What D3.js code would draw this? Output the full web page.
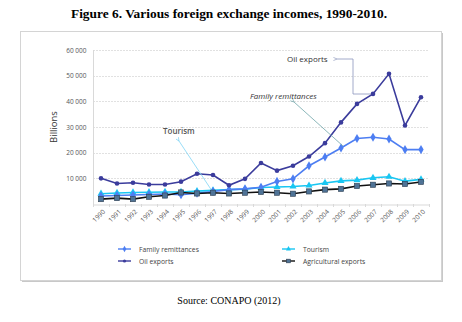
<!DOCTYPE html>
<html>
<head>
<meta charset="utf-8">
<script src="https://cdn.jsdelivr.net/npm/d3@7"></script>
<style>
  html, body { margin: 0; padding: 0; background: #fff; }
  svg { display: block; }
</style>
</head>
<body>
<svg id="chart" width="462" height="322"></svg>
<script>
// Years on the category axis
const years = d3.range(1990, 2011).map(String);

// Series values, in billions
const familyRemittances = [3100, 3300, 3500, 3700, 3900, 3600, 4200, 4900, 5600, 5900, 6500, 8800, 9800, 14900, 18300, 21800, 25500, 26000, 25300, 21200, 21200];
const tourism = [4000, 4300, 4500, 4600, 4700, 4700, 5000, 5300, 5600, 5800, 6400, 6600, 6800, 7200, 8200, 9000, 9300, 10200, 10600, 8900, 9600];
const oilExports = [10000, 8000, 8300, 7600, 7600, 8700, 11800, 11300, 7300, 9800, 16000, 13000, 14900, 18500, 23700, 31800, 39000, 42900, 50700, 30600, 41600];
const agriculturalExports = [1900, 2300, 1900, 2800, 3300, 4500, 4100, 4400, 4100, 4400, 4700, 4400, 4000, 4900, 5600, 5900, 7000, 7500, 8000, 7800, 8600];

const yTicks = [0, 10000, 20000, 30000, 40000, 50000, 60000];

const series = [
  { name: "Family remittances", values: familyRemittances, color: "#4d7ef2", marker: "diamond" },
  { name: "Tourism", values: tourism, color: "#19c6f2", marker: "triangle" },
  { name: "Oil exports", values: oilExports, color: "#3b3c9c", marker: "circle" },
  { name: "Agricultural exports", values: agriculturalExports, color: "#111111", marker: "square" }
];

const svg = d3.select("#chart");
const uiFont = "'Open Sans', 'Noto Sans', sans-serif";

// Page title and source line
svg.append("text").attr("x", 229).attr("y", 18).attr("text-anchor", "middle")
  .attr("font-family", "'Liberation Serif', serif").attr("font-weight", "bold")
  .attr("font-size", 13.4).attr("fill", "#000")
  .text("Figure 6. Various foreign exchange incomes, 1990-2010.");
svg.append("text").attr("x", 229).attr("y", 304).attr("text-anchor", "middle")
  .attr("font-family", "'Liberation Serif', serif").attr("font-size", 10).attr("fill", "#000")
  .text("Source: CONAPO (2012)");

// Chart frame with a soft shadow
svg.append("rect").attr("x", 22).attr("y", 33).attr("width", 421).attr("height", 249)
  .attr("fill", "#c8c8c8");
svg.append("rect").attr("x", 20.5).attr("y", 31.5).attr("width", 421).attr("height", 249)
  .attr("fill", "#fff").attr("stroke", "#d4d4d4").attr("stroke-width", 1);

const plot = { left: 93, right: 429, top: 50, bottom: 204 };

const x = d3.scaleBand().domain(years).range([plot.left, plot.right]);
const y = d3.scaleLinear().domain([0, 60000]).range([plot.bottom, plot.top]);
const cx = d => x(d) + x.bandwidth() / 2;

// Horizontal gridlines
svg.append("g").selectAll("line").data(yTicks.filter(t => t > 0)).join("line")
  .attr("x1", plot.left).attr("x2", plot.right)
  .attr("y1", d => Math.round(y(d)) + 0.5).attr("y2", d => Math.round(y(d)) + 0.5)
  .attr("stroke", "#d9d9d9").attr("stroke-width", 0.8).attr("stroke-dasharray", "2,1");

// Y axis
const fmt = v => d3.format(",")(v).replace(/,/g, " ");
const yAxis = svg.append("g").attr("transform", `translate(${plot.left + 0.5},0)`)
  .call(d3.axisLeft(y).tickValues(yTicks.filter(t => t > 0)).tickFormat(fmt).tickSize(0).tickPadding(7));
yAxis.select(".domain").attr("stroke", "#d9d9d9").attr("d", `M0,${plot.top}V${plot.bottom}`);
yAxis.selectAll("text").attr("font-family", uiFont).attr("font-size", 6.5).attr("fill", "#555");

// X axis
const xAxis = svg.append("g").attr("transform", `translate(0,${plot.bottom + 0.5})`)
  .call(d3.axisBottom(x).tickSize(0).tickFormat(d => d));
xAxis.select(".domain").attr("stroke", "#d9d9d9");
xAxis.selectAll(".tick text")
  .attr("font-family", uiFont).attr("font-size", 6.5).attr("fill", "#555")
  .attr("text-anchor", "end")
  .attr("transform", "translate(3,6) rotate(-45)").attr("dy", "0.35em").attr("y", 0);
// Tick marks at category boundaries
svg.append("g").selectAll("line").data(years.concat(["end"])).join("line")
  .attr("x1", (d, i) => Math.round(plot.left + i * x.bandwidth()) + 0.5)
  .attr("x2", (d, i) => Math.round(plot.left + i * x.bandwidth()) + 0.5)
  .attr("y1", plot.bottom).attr("y2", plot.bottom + 3)
  .attr("stroke", "#d9d9d9");

// Y axis title
svg.append("text").attr("transform", "translate(57,127) rotate(-90)")
  .attr("text-anchor", "middle").attr("font-family", uiFont).attr("font-size", 9.5)
  .attr("fill", "#333").text("Billions");

// Marker shapes
function drawMarker(g, s, px, py, k) {
  if (s.marker === "circle") {
    g.append("circle").attr("cx", px).attr("cy", py).attr("r", 2.3 * k).attr("fill", s.color);
  } else if (s.marker === "diamond") {
    g.append("path").attr("d", d3.symbol(d3.symbolDiamond, 24 * k * k)()).attr("transform", `translate(${px},${py})`)
      .attr("fill", s.color);
  } else if (s.marker === "triangle") {
    g.append("path").attr("d", d3.symbol(d3.symbolTriangle, 22 * k * k)()).attr("transform", `translate(${px},${py})`)
      .attr("fill", s.color);
  } else {
    g.append("rect").attr("x", px - 2.6 * k).attr("y", py - 2.6 * k).attr("width", 5.2 * k).attr("height", 5.2 * k)
      .attr("fill", "#4f7396").attr("stroke", "#2d3e50").attr("stroke-width", 0.6);
  }
}

// Series lines and markers (draw order keeps oil and agriculture readable)
const order = [series[1], series[0], series[3], series[2]];
const line = d3.line().x((d, i) => cx(years[i])).y(d => y(d));
order.forEach(s => {
  const g = svg.append("g");
  g.append("path").datum(s.values).attr("d", line)
    .attr("fill", "none").attr("stroke", s.color).attr("stroke-width", 1.6);
  s.values.forEach((v, i) => drawMarker(g, s, cx(years[i]), y(v), 1));
});

// Annotations with pointer arrows
const defs = svg.append("defs");
function arrowHead(id, color) {
  defs.append("marker").attr("id", id).attr("viewBox", "0 0 10 10").attr("refX", 1).attr("refY", 5)
    .attr("markerWidth", 5).attr("markerHeight", 5).attr("orient", "auto-start-reverse")
    .append("path").attr("d", "M10,1 L1,5 L10,9").attr("fill", "none").attr("stroke", color).attr("stroke-width", 1.4);
}
arrowHead("arrOil", "#7a86b0");
arrowHead("arrRem", "#5f9a9e");
arrowHead("arrTour", "#5fc8f0");

// Oil exports callout: elbow connector to the 2007 point
const oilIdx = years.indexOf("2007");
svg.append("path")
  .attr("d", `M337,59 H353 V94 H${cx(years[oilIdx]) - 2}`)
  .attr("fill", "none").attr("stroke", "#8c96bc").attr("stroke-width", 0.8)
  .attr("marker-start", "url(#arrOil)");
svg.append("text").attr("x", 287).attr("y", 62).attr("font-family", uiFont).attr("font-size", 8)
  .attr("fill", "#333").text("Oil exports");

// Family remittances callout toward the 2005 point
const remIdx = years.indexOf("2005");
svg.append("line").attr("x1", 294).attr("y1", 102)
  .attr("x2", cx(years[remIdx]) + 2).attr("y2", y(familyRemittances[remIdx]) - 2)
  .attr("stroke", "#6fa5a8").attr("stroke-width", 0.8).attr("marker-start", "url(#arrRem)");
svg.append("text").attr("x", 250).attr("y", 99).attr("font-family", uiFont).attr("font-size", 8)
  .attr("font-style", "italic").attr("fill", "#333").text("Family remittances");

// Tourism callout toward the 1997 point
const tourIdx = years.indexOf("1997");
svg.append("line").attr("x1", 179).attr("y1", 141)
  .attr("x2", cx(years[tourIdx]) - 2).attr("y2", y(tourism[tourIdx]) - 1)
  .attr("stroke", "#7fd4f5").attr("stroke-width", 0.8).attr("marker-start", "url(#arrTour)");
svg.append("text").attr("x", 163).attr("y", 134).attr("font-family", uiFont).attr("font-size", 8)
  .attr("font-weight", "600").attr("fill", "#555").text("Tourism");

// Legend
const legendItems = [
  { s: series[0], x: 118, y: 249 },
  { s: series[2], x: 118, y: 261 },
  { s: series[1], x: 282, y: 249 },
  { s: series[3], x: 282, y: 261 }
];
legendItems.forEach(it => {
  const g = svg.append("g");
  g.append("line").attr("x1", it.x).attr("x2", it.x + 13).attr("y1", it.y).attr("y2", it.y)
    .attr("stroke", it.s.color).attr("stroke-width", 1.4);
  drawMarker(g, it.s, it.x + 6.5, it.y, 0.7);
  g.append("text").attr("x", it.x + 21).attr("y", it.y + 2.5).attr("font-family", uiFont)
    .attr("font-size", 6.8).attr("fill", "#444").text(it.s.name);
});
</script>
</body>
</html>
